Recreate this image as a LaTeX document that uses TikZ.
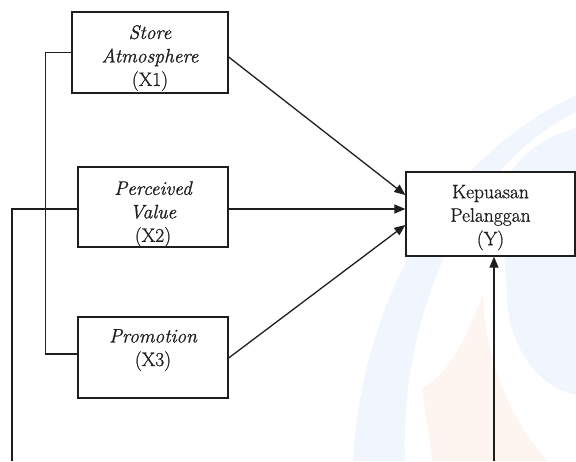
\documentclass[tikz,border=0pt]{standalone}
\usepackage{fontspec}
\setmainfont{Latin Modern Roman}[FakeBold=0.9]
\usetikzlibrary{arrows.meta,calc}
\definecolor{wmblue}{HTML}{F0F5FE}
\definecolor{wmpeach}{HTML}{FEF4F0}
\definecolor{ink}{HTML}{1E1E1E}
\begin{document}
\begin{tikzpicture}[x=1pt,y=-1pt,
  varbox/.style={draw=ink,line width=1.3pt,fill=white,inner sep=0pt},
  vartext/.style={align=center,font=\fontsize{19.5}{23.5}\selectfont,text=ink,inner sep=0pt},
  link/.style={draw=ink,line width=1.3pt},
  arr/.style={link,-{Triangle[length=11pt,width=9pt]}}]
\useasboundingbox (0,0) rectangle (576,461);
% faint logo in the background
\fill[wmblue] (353,461) .. controls (360,330) and (420,170) .. (576,95)
  -- (576,112) .. controls (460,170) and (400,320) .. (405,461) -- cycle;
\fill[wmblue] (576,128) .. controls (540,138) and (500,165) .. (500,210)
  .. controls (502,250) and (507,270) .. (507,300)
  .. controls (510,350) and (540,388) .. (576,395) -- cycle;
\fill[wmpeach] (483,293) .. controls (470,330) and (450,375) .. (422,388)
  .. controls (425,410) and (430,440) .. (432,461) -- (548,461)
  .. controls (510,420) and (485,360) .. (483,293) -- cycle;
% variable boxes
\node[varbox,minimum width=156pt,minimum height=81pt] (x1) at (150,52.5) {};
\node[vartext] at (150,58) {\itshape Store\\\itshape Atmosphere\\(X1)};
\node[varbox,minimum width=150pt,minimum height=80pt] (x2) at (153,207) {};
\node[vartext] at (153,214) {\itshape Perceived\\\itshape Value\\(X2)};
\node[varbox,minimum width=150pt,minimum height=81pt] (x3) at (153,357.5) {};
\node[vartext] at (153,350) {\itshape Promotion\\(X3)};
\node[varbox,minimum width=169pt,minimum height=84pt] (y) at (490.5,214) {};
\node[vartext] at (490.5,217.5) {Kepuasan\\Pelanggan\\(Y)};
% loose ends at the lower edge
\coordinate (xbot) at (12,461);
\coordinate (ybot) at (494,461);
% paths into Y
\draw[arr] ($(x1.east)+(0,4.5)$) -- ($(y.west)+(0,-19)$);
\draw[arr] ($(x2.east)+(0,2)$) -- ($(y.west)+(0,-5)$);
\draw[arr] ($(x3.east)+(0,0.5)$) -- ($(y.west)+(0,11)$);
\draw[arr] (ybot) -- ($(y.south)+(3.5,0)$);
% left-hand connections
\draw[link] (x1.west) -- ++(-26,0) |- ($(x3.west)+(0,-3.5)$);
\draw[link] ($(x2.west)+(0,2)$) -| (xbot);
\end{tikzpicture}
\end{document}
